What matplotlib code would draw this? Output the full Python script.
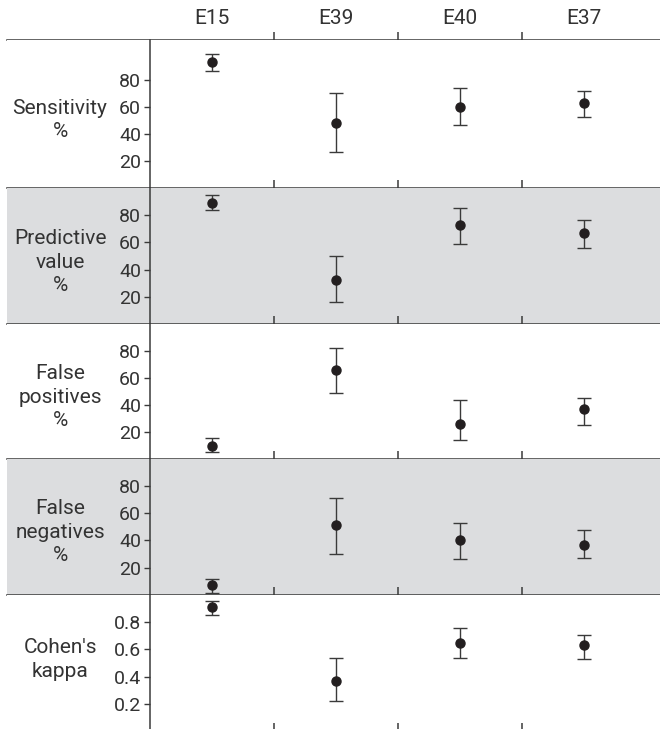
"""
Panel chart of agreement statistics (sensitivity, predictive value, errors, kappa) per examiner.
"""

import matplotlib
matplotlib.use('Agg')
import matplotlib.pyplot as plt
import numpy as np

#################### DATA ####################

categories = ['E15', 'E39', 'E40', 'E37']
row_labels = ['Sensitivity\n%', 'Predictive\nvalue\n%', 'False\npositives\n%',
              'False\nnegatives\n%', "Cohen's\nkappa"]

sens = [94, 48, 60, 63]
sens_lo = [87, 26.5, 46.5, 53]
sens_hi = [99.5, 70.5, 74, 72]

ppv = [89, 32, 73, 67]
ppv_lo = [84, 16.5, 58.5, 56]
ppv_hi = [94.5, 50, 85, 76.5]

false_pos = [9.5, 66, 25.5, 36.5]
false_pos_lo = [4.5, 48.5, 14, 25]
false_pos_hi = [15.5, 82, 43.5, 45]

false_neg = [7.5, 51, 40, 36.5]
false_neg_lo = [1.5, 30, 26.5, 27]
false_neg_hi = [12, 71, 53, 47.5]

kappa = [0.91, 0.37, 0.645, 0.63]
kappa_lo = [0.855, 0.22, 0.54, 0.53]
kappa_hi = [0.955, 0.535, 0.755, 0.705]

y_ticks = [[20, 40, 60, 80]] * 4 + [[0.2, 0.4, 0.6, 0.8]]
y_max = [110, 100, 100, 100, 1.0]

#################### LAYOUT ####################

W, H = 660, 729
plt.rcParams['font.family'] = ['Roboto', 'DejaVu Sans']
text_col = '#333333'
line_col = '#3a3a3a'
shade = '#dcdddf'

fig = plt.figure(figsize=(W / 100, H / 100), dpi=100)

def px_rect(x0, y0, x1, y1):
    # pixel box (top-left origin) -> figure fraction rect
    return [x0 / W, 1 - y1 / H, (x1 - x0) / W, (y1 - y0) / H]

x_left_px, x_axis_px, col_px = 7, 150, 124          # horizontal geometry
xlim = ((x_left_px - x_axis_px) / col_px, (W - x_axis_px) / col_px)
xpos = np.arange(len(categories)) + 0.5

# header with the examiner names
hdr = fig.add_axes(px_rect(x_left_px, 0, W, 40))
hdr.set_xlim(*xlim)
hdr.set_ylim(0, 1)
for s in ['top', 'right', 'left']:
    hdr.spines[s].set_visible(False)
hdr.spines['bottom'].set_color(line_col)
hdr.spines['bottom'].set_linewidth(1.1)
hdr.set_xticks([1, 2, 3])
hdr.tick_params(axis='x', direction='in', length=6, width=1.1, color=line_col, labelbottom=False)
hdr.set_yticks([])
hdr.patch.set_alpha(0)
for xp, name in zip(xpos, categories):
    hdr.text(xp, 0.55, name, ha='center', va='center', fontsize=15, color=text_col)

# panels
tops = [40, 188, 324, 458.5, 595]
bottoms = [188, 324, 458.5, 595, 731]
label_y = [0.46, 0.455, 0.455, 0.46, 0.525]
series = [(sens, sens_lo, sens_hi), (ppv, ppv_lo, ppv_hi), (false_pos, false_pos_lo, false_pos_hi),
          (false_neg, false_neg_lo, false_neg_hi), (kappa, kappa_lo, kappa_hi)]

for i, (vals, lo, hi) in enumerate(series):
    ax = fig.add_axes(px_rect(x_left_px, tops[i], W, bottoms[i]))
    ax.set_facecolor(shade if i % 2 == 1 else 'white')
    ax.set_xlim(*xlim)
    ax.set_ylim(0, y_max[i])
    vals, lo, hi = np.array(vals), np.array(lo), np.array(hi)
    ax.errorbar(xpos, vals, yerr=[vals - lo, hi - vals], fmt='o', color='#231f20', ms=6.5,
                ecolor=line_col, elinewidth=1.0, capsize=5, capthick=1.0, zorder=3)

    ax.spines['top'].set_visible(False)
    ax.spines['right'].set_visible(False)
    ax.spines['left'].set_position(('data', 0))
    for s in ['left', 'bottom']:
        ax.spines[s].set_color(line_col)
        ax.spines[s].set_linewidth(1.1)

    ax.set_xticks([1, 2, 3])
    ax.tick_params(axis='x', direction='in', length=6, width=1.1, color=line_col, labelbottom=False)
    ax.set_yticks(y_ticks[i])
    if i == 4:
        ax.set_yticklabels(['%.1f' % t for t in y_ticks[i]])
    ax.tick_params(axis='y', direction='out', length=4.5, width=1.0, color=line_col,
                   labelsize=14, labelcolor=text_col, pad=2)

    # row title left of the axis (x in data units, y in axes fraction)
    ax.text((60 - x_axis_px) / col_px, label_y[i], row_labels[i], transform=ax.get_xaxis_transform(),
            ha='center', va='center', fontsize=15, color=text_col, linespacing=1.3)

fig.savefig('out.png', dpi=100)
